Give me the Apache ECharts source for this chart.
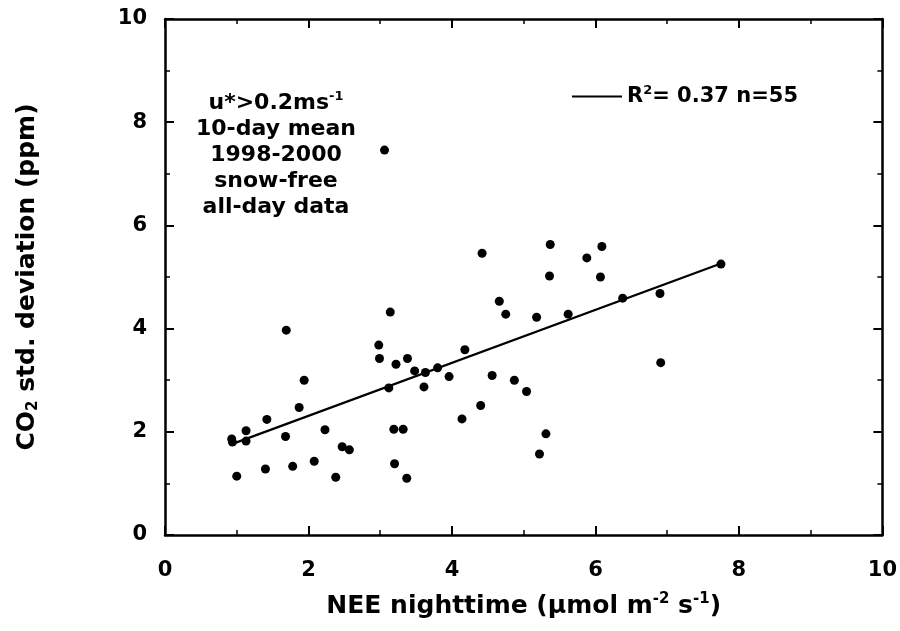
<!DOCTYPE html>
<html>
<head>
<meta charset="utf-8">
<script src="https://cdn.jsdelivr.net/npm/echarts@6/dist/echarts.min.js"></script>
<style>html,body{margin:0;padding:0;background:#fff}#c{width:900px;height:631px}</style>
</head>
<body>
<div id="c"></div>
<script>
// NEE nighttime (x) vs CO2 std. deviation (y), 55 ten-day means
const neeX = [0.93,0.94,1.13,1.13,1.00,1.42,1.40,1.69,1.68,1.78,1.87,1.94,2.08,2.23,2.38,2.47,2.57,
  2.98,2.99,3.14,3.12,3.22,3.19,3.32,3.20,3.37,3.38,3.48,3.63,3.61,3.80,3.96,4.18,4.14,4.40,4.56,4.66,4.75,4.87,5.04,
  5.36,6.07,5.18,5.62,6.38,6.90,6.91,5.31,5.22,
  5.37,6.09,5.88,7.75,
  3.06,4.42];
const co2Sd = [1.86,1.80,2.02,1.82,1.14,2.24,1.28,3.97,1.91,1.33,2.47,3.00,1.43,2.04,1.12,1.71,1.65,
  3.68,3.42,4.32,2.85,3.31,2.05,2.05,1.38,1.10,3.42,3.18,3.15,2.87,3.24,3.07,3.59,2.25,2.51,3.09,4.53,4.28,3.00,2.78,
  5.02,5.00,4.22,4.28,4.59,4.68,3.34,1.96,1.57,
  5.63,5.59,5.37,5.25,
  7.46,5.46];
// regression line end points
const fitX = [0.97, 7.75];
const fitY = [1.78, 5.26];
const xTicks = [0, 2, 4, 6, 8, 10];
const yTicks = [0, 2, 4, 6, 8, 10];
const fitLabel = 'R²= 0.37 n=55';
const noteLines = ['10-day mean', '1998-2000', 'snow-free', 'all-day data'];

const FONT = '"DejaVu Sans", "Liberation Sans", Arial, sans-serif';
const chart = echarts.init(document.getElementById('c'), null, {renderer: 'canvas'});

const axisCommon = {
  type: 'value', min: 0, max: 10, interval: 2,
  axisLine: {show: true, onZero: false, lineStyle: {color: '#000', width: 2.5}},
  axisTick: {show: true, inside: true, length: 9, lineStyle: {color: '#000', width: 2}},
  minorTick: {show: true, splitNumber: 2, length: 5, lineStyle: {color: '#000', width: 1.5}},
  splitLine: {show: false},
  minorSplitLine: {show: false}
};

const option = {
  backgroundColor: '#fff',
  animation: false,
  grid: {left: 165, right: 15, top: 19, bottom: 96, containLabel: false},
  xAxis: [
    Object.assign({}, axisCommon, {
      position: 'bottom',
      axisLabel: {show: true, margin: 25, color: '#000', fontFamily: FONT, fontWeight: 'bold', fontSize: 21,
        formatter: v => xTicks.includes(v) ? String(v) : ''},
      name: '{a|NEE nighttime (μmol m}{s|-2}{a| s}{s|-1}{a|)}',
      nameLocation: 'middle', nameGap: 57,
      nameTextStyle: {rich: {
        a: {fontFamily: FONT, fontWeight: 'bold', fontSize: 25, color: '#000'},
        s: {fontFamily: FONT, fontWeight: 'bold', fontSize: 15, color: '#000', padding: [0, 0, 14, 0]}
      }}
    }),
    Object.assign({}, axisCommon, {position: 'top', axisLabel: {show: false}})
  ],
  yAxis: [
    Object.assign({}, axisCommon, {
      position: 'left',
      axisLabel: {show: true, margin: 18, color: '#000', fontFamily: FONT, fontWeight: 'bold', fontSize: 21,
        formatter: v => yTicks.includes(v) ? String(v) : ''},
      name: '{a|CO}{s|2}{a| std. deviation (ppm)}',
      nameLocation: 'middle', nameGap: 124, nameRotate: 90,
      nameTextStyle: {rich: {
        a: {fontFamily: FONT, fontWeight: 'bold', fontSize: 25, color: '#000'},
        s: {fontFamily: FONT, fontWeight: 'bold', fontSize: 15, color: '#000', padding: [12, 0, 0, 0]}
      }}
    }),
    Object.assign({}, axisCommon, {position: 'right', axisLabel: {show: false}})
  ],
  legend: {
    show: true, data: [{name: fitLabel, icon: 'rect'}], left: 572, top: 84,
    itemWidth: 50, itemHeight: 2, itemGap: 4, padding: 0,
    formatter: () => '{a|R}{s|2}{a|= 0.37 n=55}',
    textStyle: {color: '#000', rich: {
      a: {fontFamily: FONT, fontWeight: 'bold', fontSize: 21, color: '#000'},
      s: {fontFamily: FONT, fontWeight: 'bold', fontSize: 13, color: '#000', padding: [0, 0, 12, 0]}
    }},
    itemStyle: {color: '#000'}
  },
  graphic: [{
    type: 'text', x: 276, y: 90,
    style: {
      text: '{a|u*>0.2ms}{s|-1}\n' + noteLines.map(t => '{a|' + t + '}').join('\n'),
      align: 'center', verticalAlign: 'top',
      rich: {
        a: {fontFamily: FONT, fontWeight: 'bold', fontSize: 22, color: '#000', lineHeight: 26},
        s: {fontFamily: FONT, fontWeight: 'bold', fontSize: 13, color: '#000', lineHeight: 26, padding: [0, 0, 12, 0]}
      }
    }
  }],
  series: [
    {
      type: 'scatter', name: 'data', xAxisIndex: 0, yAxisIndex: 0,
      data: neeX.map((x, i) => [x, co2Sd[i]]),
      symbol: 'circle', symbolSize: 9,
      itemStyle: {color: '#000', opacity: 1}
    },
    {
      type: 'line', name: fitLabel, xAxisIndex: 0, yAxisIndex: 0,
      data: fitX.map((x, i) => [x, fitY[i]]),
      symbol: 'none', showSymbol: false,
      lineStyle: {color: '#000', width: 2.2},
      itemStyle: {color: '#000'}
    }
  ]
};
chart.setOption(option);
</script>
</body>
</html>
